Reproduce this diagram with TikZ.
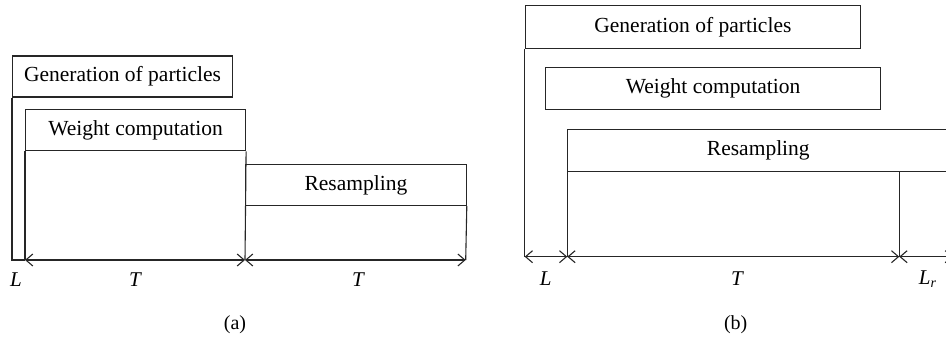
\documentclass[tikz,border=0pt]{standalone}
\usepackage{fontspec}
\setmainfont{Liberation Serif}
\usetikzlibrary{arrows.meta}
\begin{document}
\begin{tikzpicture}[x=1pt,y=-1pt, line width=1.1pt, draw=black!85,
  box/.style={draw, rectangle, anchor=north west, inner sep=0pt, font=\fontsize{21.5}{25}\selectfont},
  lab/.style={font=\fontsize{21}{24}\selectfont\itshape, inner sep=0pt},
  captext/.style={font=\fontsize{20}{23}\selectfont, inner sep=0pt},
  dim/.style={{Straight Barb[length=7pt,width=12pt]}-{Straight Barb[length=7pt,width=12pt]}}]
\useasboundingbox (0,0) rectangle (946,339);
\clip (0,0) rectangle (946,339);
% ---------- (a)
\node[box, minimum width=220pt, minimum height=41pt] (genA) at (12,55.5) {Generation of particles};
\node[box, minimum width=220pt, minimum height=41pt] (wA) at (25,109.3) {Weight computation};
\node[box, minimum width=220.7pt, minimum height=41.3pt] (rA) at (245,163.7) {Resampling};
\coordinate (a0) at (12,260);
\coordinate (a1) at (25,260);
\coordinate (a2) at (245,260);
\coordinate (a3) at (465.7,260);
\draw (genA.south west) -- (a0) -- (a1);
\draw (wA.south west) -- (a1);
\draw (wA.south east) -- (a2);
\draw (rA.south east) -- (a3);
\draw[dim] (a1) -- (a2);
\draw[dim] (a2) -- (a3);
\node[lab] (LA) at (16,280) {L};
\node[lab] (TA1) at (135,280) {T};
\node[lab] (TA2) at (358,280) {T};
\node[captext] (capA) at (235,325) {(a)};
% ---------- (b)
\node[box, minimum width=335.3pt, minimum height=42.7pt] (genB) at (524.7,5) {Generation of particles};
\node[box, minimum width=335pt, minimum height=42.3pt] (wB) at (545,66.7) {Weight computation};
\node[box, minimum width=381pt, minimum height=42pt] (rB) at (567.3,129) {Resampling};
\coordinate (b0) at (524.7,256.7);
\coordinate (b1) at (567.3,256.7);
\coordinate (b2) at (899.3,256.7);
\coordinate (b3) at (953,256.7);
\draw (genB.south west) -- (b0);
\draw (rB.south west) -- (b1);
\draw (rB.south west -| b2) -- (b2);
\draw[dim] (b0) -- (b1);
\draw[dim] (b1) -- (b2);
\draw[dim] (b2) -- (b3);
\node[lab] (LB) at (545.7,279) {L};
\node[lab] (TB) at (737,279) {T};
\node[lab] (LrB) at (927.5,279) {L\raisebox{-0.3ex}{\fontsize{14}{16}\selectfont r}};
\node[captext] (capB) at (735.7,325) {(b)};
\end{tikzpicture}
\end{document}
